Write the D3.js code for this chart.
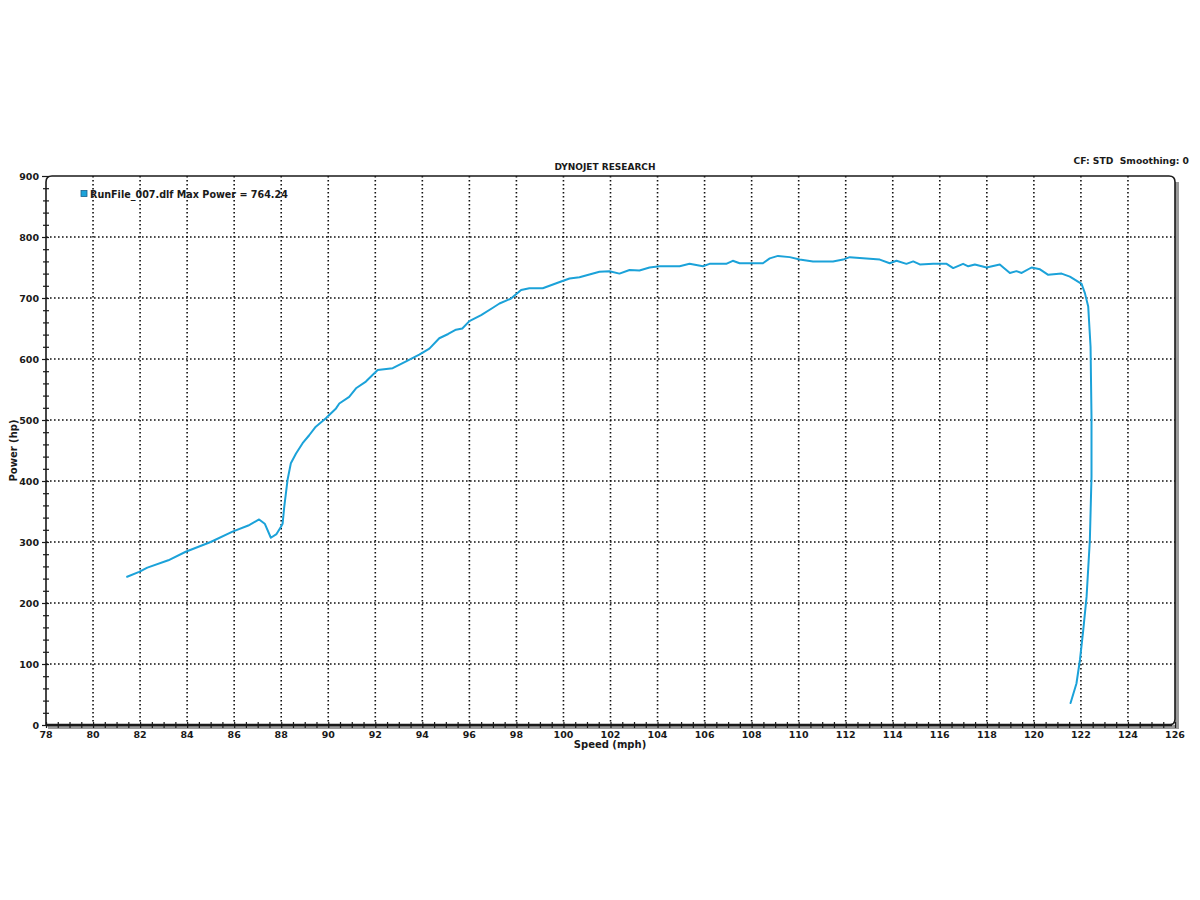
<!DOCTYPE html>
<html>
<head>
<meta charset="utf-8">
<script src="https://cdn.jsdelivr.net/npm/d3@7"></script>
<style>
  html, body { margin: 0; padding: 0; background: #ffffff; }
  svg { display: block; }
  text { font-family: "DejaVu Sans", Verdana, sans-serif; font-weight: bold; fill: #1a1a1a; white-space: pre; }
</style>
</head>
<body>
<svg id="chart" width="1200" height="900"></svg>
<script>
// ---- Data ----
const titleText = "DYNOJET RESEARCH";
const infoText = "CF: STD\u00a0\u00a0Smoothing: 0";
const legendText = "RunFile_007.dlf Max Power = 764.24";
const xLabel = "Speed (mph)";
const yLabel = "Power (hp)";
const xTicks = [78, 80, 82, 84, 86, 88, 90, 92, 94, 96, 98, 100, 102, 104, 106, 108, 110, 112, 114, 116, 118, 120, 122, 124, 126];
const yTicks = [0, 100, 200, 300, 400, 500, 600, 700, 800, 900];

const speed = [81.45, 81.96, 82.31, 83.2, 83.94, 85.0, 85.93, 86.6, 87.06, 87.3, 87.56, 87.8, 87.99, 88.06, 88.13, 88.27, 88.41, 88.63, 88.91, 89.19, 89.47, 89.9, 90.33, 90.47, 90.89, 91.18, 91.6, 92.1, 92.74, 93.31, 93.87, 94.3, 94.72, 95.1, 95.43, 95.7, 96.0, 96.5, 97.0, 97.28, 97.77, 98.2, 98.55, 99.12, 99.9, 100.26, 100.68, 101.53, 101.96, 102.38, 102.81, 103.23, 103.66, 104.09, 104.94, 105.36, 105.93, 106.21, 106.92, 107.2, 107.49, 108.48, 108.77, 109.12, 109.62, 110.04, 110.61, 111.46, 111.89, 112.17, 113.45, 113.87, 114.16, 114.58, 114.87, 115.15, 115.72, 116.29, 116.57, 116.99, 117.21, 117.49, 117.99, 118.55, 118.98, 119.26, 119.48, 119.9, 120.26, 120.61, 121.18, 121.53, 122.03, 122.17, 122.31, 122.41, 122.45, 122.45, 122.38, 122.24, 122.1, 121.96, 121.81, 121.56];
const power = [243, 251, 258, 270, 284, 300, 317, 327, 337, 330, 307, 313, 325, 330, 358, 402, 429, 445, 462, 475, 489, 503, 519, 527, 538, 552, 563, 582, 585, 596, 607, 617, 634, 641, 648, 650, 662, 672, 684, 691, 699, 713, 716, 716, 727, 732, 734, 743, 744, 740, 746, 745, 750, 752, 752, 756, 752, 756, 756, 761, 757, 757, 765, 769, 767, 763, 760, 760, 763, 767, 763, 757, 761, 756, 760, 755, 756, 756, 749, 756, 752, 755, 750, 755, 741, 744, 741, 750, 747, 738, 740, 735, 723, 708, 686, 620, 505, 407, 303, 210, 156, 107, 68, 36];

// ---- Layout ----
const svg = d3.select("#chart");
const pLeft = 46, pRight = 1175, pTop = 176, pBottom = 725;
const x = d3.scaleLinear().domain([78, 126]).range([pLeft, pRight]);
const y = d3.scaleLinear().domain([0, 900]).range([pBottom, pTop]);
const lineColor = "#1ba2d9";

// Grid (dotted)
const grid = svg.append("g");
grid.selectAll("line.v").data(xTicks.filter(d => d > 78 && d < 126)).join("line")
  .attr("class", "v")
  .attr("x1", d => x(d)).attr("x2", d => x(d))
  .attr("y1", pTop).attr("y2", pBottom)
  .attr("stroke", "#111").attr("stroke-width", 1.6).attr("stroke-dasharray", "1.6,2.4");
grid.selectAll("line.h").data(yTicks.filter(d => d > 0 && d < 900)).join("line")
  .attr("class", "h")
  .attr("x1", pLeft).attr("x2", pRight)
  .attr("y1", d => y(d)).attr("y2", d => y(d))
  .attr("stroke", "#111").attr("stroke-width", 1.6).attr("stroke-dasharray", "1.6,2.4");

// Shadow along bottom and right
svg.append("path")
  .attr("d", `M${pLeft + 2},${pBottom + 2} L${pRight + 2},${pBottom + 2} L${pRight + 2},${pTop + 6}`)
  .attr("fill", "none").attr("stroke", "#9a9a9a").attr("stroke-width", 4);

// Frame with rounded corners
const r = 6;
svg.append("path")
  .attr("d", `M${pLeft},${pBottom} L${pLeft},${pTop + r} Q${pLeft},${pTop} ${pLeft + r},${pTop} L${pRight - r},${pTop} Q${pRight},${pTop} ${pRight},${pTop + r} L${pRight},${pBottom - r} Q${pRight},${pBottom} ${pRight - r},${pBottom} Z`)
  .attr("fill", "none").attr("stroke", "#1a1a1a").attr("stroke-width", 1.6);
svg.append("line").attr("x1", pLeft).attr("x2", pRight - 3).attr("y1", pBottom).attr("y2", pBottom)
  .attr("stroke", "#1a1a1a").attr("stroke-width", 2.4);

// X axis ticks (minor every 0.5)
const xAxis = d3.axisBottom(x).tickValues(d3.range(78, 126.01, 0.5)).tickSize(3).tickFormat("");
const gx = svg.append("g").attr("transform", `translate(0,${pBottom - 2})`).call(xAxis);
gx.select(".domain").remove();
gx.selectAll(".tick line").attr("stroke", "#1a1a1a").attr("stroke-width", 1.2).attr("y1", -1).attr("y2", 5);
svg.append("g").selectAll("text").data(xTicks).join("text")
  .attr("x", d => x(d)).attr("y", pBottom + 13)
  .attr("text-anchor", "middle").attr("font-size", 9.5).text(d => d);

// Y axis ticks (minor every 20)
const yAxis = d3.axisLeft(y).tickValues(d3.range(0, 901, 20)).tickSize(3).tickFormat("");
const gy = svg.append("g").attr("transform", `translate(${pLeft},0)`).call(yAxis);
gy.select(".domain").remove();
gy.selectAll(".tick line").attr("stroke", "#1a1a1a").attr("stroke-width", 1.2)
  .attr("x1", d => d % 100 === 0 ? -4 : -3).attr("x2", 3);
svg.append("g").selectAll("text").data(yTicks).join("text")
  .attr("x", pLeft - 7).attr("y", d => y(d) + 3.5)
  .attr("text-anchor", "end").attr("font-size", 9.5).text(d => d);

// Titles
svg.append("text").attr("x", 605).attr("y", 170).attr("text-anchor", "middle")
  .attr("font-size", 9).text(titleText);
svg.append("text").attr("x", 1189).attr("y", 164).attr("text-anchor", "end")
  .attr("font-size", 9.2).text(infoText);
svg.append("text").attr("x", 610).attr("y", 748).attr("text-anchor", "middle")
  .attr("font-size", 10).text(xLabel);
svg.append("text").attr("transform", `translate(17,${(pTop + pBottom) / 2}) rotate(-90)`)
  .attr("text-anchor", "middle").attr("font-size", 10).text(yLabel);

// Legend
svg.append("rect").attr("x", 81).attr("y", 190.5).attr("width", 6).attr("height", 6)
  .attr("fill", lineColor).attr("stroke", "#1a5f8a").attr("stroke-width", 0.8);
svg.append("text").attr("x", 90).attr("y", 198).attr("font-size", 9.6).text(legendText);

// Power curve
const pts = speed.map((s, i) => [s, power[i]]);
svg.append("path").datum(pts)
  .attr("d", d3.line().x(d => x(d[0])).y(d => y(d[1])).curve(d3.curveLinear))
  .attr("fill", "none").attr("stroke", lineColor).attr("stroke-width", 2)
  .attr("stroke-linejoin", "round").attr("stroke-linecap", "round");
</script>
</body>
</html>
